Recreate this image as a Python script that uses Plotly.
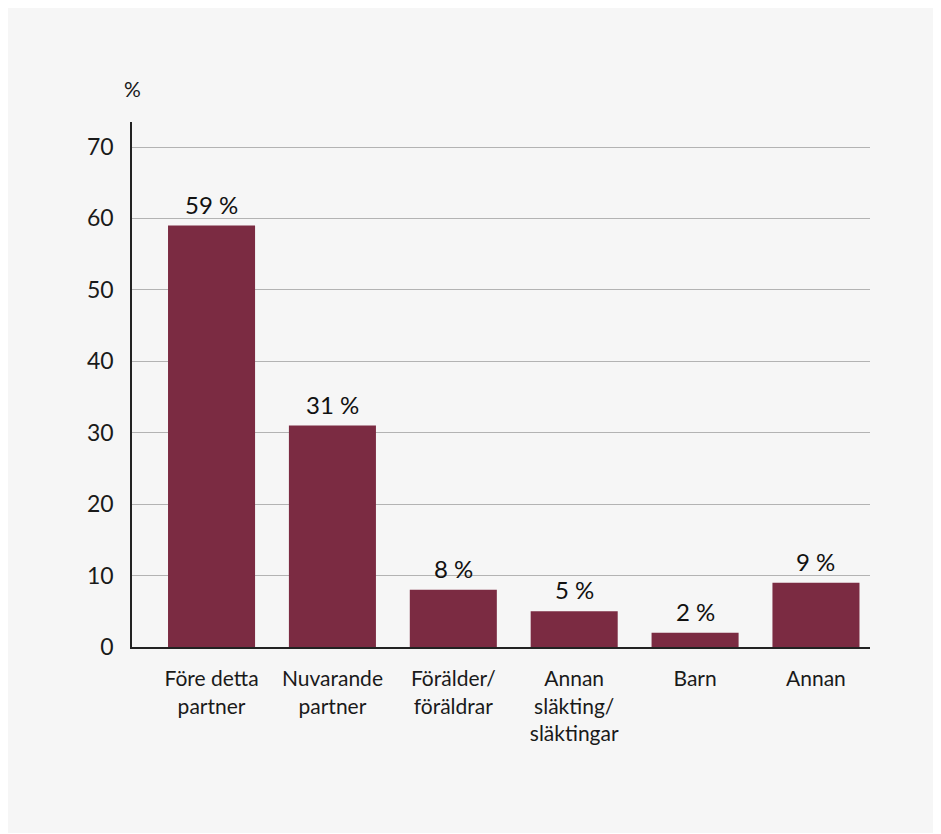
import plotly.graph_objects as go

categories = ["Före detta<br>partner", "Nuvarande<br>partner", "Förälder/<br>föräldrar",
              "Annan<br>släkting/<br>släktingar", "Barn", "Annan"]
values = [59, 31, 8, 5, 2, 9]
y_ticks = [0, 10, 20, 30, 40, 50, 60, 70]

BAR = "#7b2b42"
BG = "#f6f6f6"
FONT = "Lato, Open Sans, sans-serif"
TXT = "#1a1a1a"

fig = go.Figure()
fig.add_trace(go.Bar(
    x=list(range(len(categories))),
    y=values,
    marker=dict(color=BAR, line=dict(width=0)),
    width=0.72,
    hoverinfo="skip",
))

annotations = [dict(
    x=i, y=v, xref="x", yref="y", text=f"{v} %", showarrow=False,
    xanchor="center", yanchor="bottom", yshift=5,
    font=dict(size=24, color="#111", family=FONT),
) for i, v in enumerate(values)]

annotations.append(dict(
    text="%", xref="paper", yref="paper", x=0, y=1.063,
    xanchor="center", yanchor="middle", showarrow=False,
    font=dict(size=21, color=TXT, family=FONT),
))

fig.update_layout(
    width=932, height=825,
    paper_bgcolor=BG, plot_bgcolor=BG,
    margin=dict(l=124, r=70, t=114, b=186),
    font=dict(family=FONT, size=22, color=TXT),
    showlegend=False,
    xaxis=dict(
        tickmode="array",
        tickvals=list(range(len(categories))),
        ticktext=categories,
        range=[-0.658, 5.447],
        showgrid=False,
        showline=True, linecolor="#222", linewidth=2,
        ticks="", ticklabelstandoff=12,
        tickfont=dict(size=21, color=TXT, family=FONT),
        zeroline=False,
    ),
    yaxis=dict(
        range=[0, 73.5],
        tickvals=y_ticks,
        showgrid=True, gridcolor="#b3b3b3", gridwidth=1,
        showline=True, linecolor="#222", linewidth=1.5,
        ticks="", ticklabelstandoff=12,
        tickfont=dict(size=23, color=TXT, family=FONT),
        zeroline=False,
    ),
    annotations=annotations,
)

fig.write_html("out.html")
